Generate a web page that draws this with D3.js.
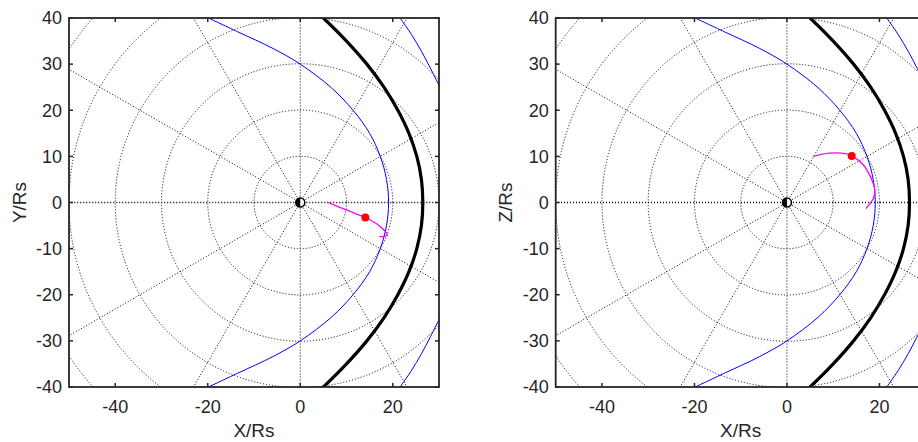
<!DOCTYPE html>
<html>
<head>
<meta charset="utf-8">
<script src="https://cdn.jsdelivr.net/npm/d3@7"></script>
<style>
  body { margin: 0; background: #fff; }
  text { font-family: "Liberation Sans", Arial, sans-serif; fill: #262626; }
</style>
</head>
<body>
<div id="chart"></div>
<script>
// Two orbit panels (X-Y and X-Z) with polar grid, magnetopause and bow shock

// Axis ticks
const xTicks = [-40, -20, 0, 20];
const yTicks = [-40, -30, -20, -10, 0, 10, 20, 30, 40];

// Polar grid
const gridRadii = [10, 20, 30, 40, 50, 60];
const spokeAngles = [0, 30, 60, 90, 120, 150, 180, 210, 240, 270, 300, 330];

// Magnetopause (blue)
const mpX = [-20.5, -13.5, -5.9, 0, 6.7, 11.5, 15.0, 17.3, 18.65, 19.1, 18.65, 17.3, 15.0, 11.5, 6.7, 0, -5.9, -13.5, -20.5];
const mpY = [40.3, 37.0, 33.4, 30, 24.9, 19.9, 15.0, 10.0, 5.0, 0, -5.0, -10.0, -15.0, -19.9, -24.9, -30, -33.4, -37.0, -40.3];

// Bow shock (thick black)
const bsX = [3.9, 5.0, 10.0, 14.4, 18.1, 21.1, 23.5, 25.2, 26.2, 26.5, 26.2, 25.2, 23.5, 21.1, 18.1, 14.4, 10.0, 5.0, 3.9];
const bsY = [41, 40, 35, 30, 25, 20, 15, 10, 5, 0, -5, -10, -15, -20, -25, -30, -35, -40, -41];

// Outer blue branches in the corners
const outerTopX = [21.0, 21.6, 24.0, 26.2, 28.2, 30.1, 31.0];
const outerTopY = [41.0, 40, 36.5, 32.8, 29.0, 25.2, 23.3];
const outerBotX = [21.0, 21.6, 24.0, 26.2, 28.2, 30.1, 31.0];
const outerBotY = [-41.0, -40, -36.5, -32.8, -29.0, -25.2, -23.3];

// Spacecraft trajectory, X-Y plane
const trajXYx = [6.0, 10.1, 14.07, 16.5, 17.7, 18.6, 18.8, 18.2, 17.1];
const trajXYy = [0.0, -1.67, -3.25, -4.6, -5.6, -6.6, -7.1, -7.35, -7.4];
const posXY = [14.07, -3.25];

// Spacecraft trajectory, X-Z plane
const trajXZx = [5.75, 9.1, 12.7, 14.0, 16.3, 18.1, 19.0, 18.7, 17.1];
const trajXZz = [10.0, 10.7, 10.6, 10.1, 8.4, 5.5, 2.7, 0.9, -1.3];
const posXZ = [14.0, 10.1];

var svg = d3.select('#chart').append('svg')
    .attr('width', 918)
    .attr('height', 442);

function drawPanel(id, left, yLabel, tx, ty, pos) {
    var xScale = d3.scaleLinear().domain([-50, 30]).range([left, left + 370]);
    var yScale = d3.scaleLinear().domain([-40, 40]).range([387, 18]);
    var x0 = xScale(-50), x1 = xScale(30), y0 = yScale(40), y1 = yScale(-40);

    svg.append('clipPath').attr('id', id)
        .append('rect')
        .attr('x', x0).attr('y', y0)
        .attr('width', x1 - x0).attr('height', y1 - y0);

    var g = svg.append('g').attr('clip-path', 'url(#' + id + ')');
    var k = xScale(1) - xScale(0);

    // Dotted polar grid
    g.selectAll('.ring')
        .data(gridRadii)
        .enter()
        .append('circle')
        .attr('cx', xScale(0))
        .attr('cy', yScale(0))
        .attr('r', function(d) { return d * k; })
        .attr('fill', 'none')
        .attr('stroke', '#000')
        .attr('stroke-width', 1)
        .attr('stroke-dasharray', '1,2');

    g.selectAll('.spoke')
        .data(spokeAngles)
        .enter()
        .append('line')
        .attr('x1', xScale(0))
        .attr('y1', yScale(0))
        .attr('x2', function(d) { return xScale(60 * Math.cos(d * Math.PI / 180)); })
        .attr('y2', function(d) { return yScale(60 * Math.sin(d * Math.PI / 180)); })
        .attr('stroke', '#000')
        .attr('stroke-width', function(d) { return (d == 0 || d == 180) ? 1.5 : 1; })
        .attr('stroke-dasharray', '1,2');

    var line = d3.line()
        .x(function(d) { return xScale(d[0]); })
        .y(function(d) { return yScale(d[1]); })
        .curve(d3.curveCatmullRom);

    function pairs(xs, ys) { return xs.map(function(v, i) { return [v, ys[i]]; }); }

    g.append('path').datum(pairs(mpX, mpY))
        .attr('d', line).attr('fill', 'none')
        .attr('stroke', '#0000ff').attr('stroke-width', 1);

    g.append('path').datum(pairs(outerTopX, outerTopY))
        .attr('d', line).attr('fill', 'none')
        .attr('stroke', '#0000ff').attr('stroke-width', 1);
    g.append('path').datum(pairs(outerBotX, outerBotY))
        .attr('d', line).attr('fill', 'none')
        .attr('stroke', '#0000ff').attr('stroke-width', 1);

    g.append('path').datum(pairs(bsX, bsY))
        .attr('d', line).attr('fill', 'none')
        .attr('stroke', '#000').attr('stroke-width', 3.2);

    g.append('path').datum(pairs(tx, ty))
        .attr('d', line).attr('fill', 'none')
        .attr('stroke', '#ff00ff').attr('stroke-width', 1.3);

    g.append('circle')
        .attr('cx', xScale(pos[0])).attr('cy', yScale(pos[1]))
        .attr('r', 4).attr('fill', '#ff0000');

    // Saturn symbol, left half dark
    g.append('circle')
        .attr('cx', xScale(0)).attr('cy', yScale(0)).attr('r', 4.5)
        .attr('fill', '#fff').attr('stroke', '#000').attr('stroke-width', 1.5);
    g.append('path')
        .attr('transform', 'translate(' + xScale(0) + ',' + yScale(0) + ')')
        .attr('d', d3.arc().innerRadius(0).outerRadius(4.5).startAngle(Math.PI).endAngle(2 * Math.PI))
        .attr('fill', '#000');

    // Ticks on all four sides, pointing in
    var ax = svg.append('g');
    xTicks.forEach(function(t) {
        ax.append('line').attr('x1', xScale(t)).attr('x2', xScale(t))
            .attr('y1', y1).attr('y2', y1 - 4).attr('stroke', '#262626').attr('stroke-width', 1.5);
        ax.append('line').attr('x1', xScale(t)).attr('x2', xScale(t))
            .attr('y1', y0).attr('y2', y0 + 4).attr('stroke', '#262626').attr('stroke-width', 1.5);
        ax.append('text').attr('x', xScale(t)).attr('y', 413)
            .attr('text-anchor', 'middle').attr('font-size', '18px').text(t);
    });
    yTicks.forEach(function(t) {
        ax.append('line').attr('x1', x0).attr('x2', x0 + 4)
            .attr('y1', yScale(t)).attr('y2', yScale(t)).attr('stroke', '#262626').attr('stroke-width', 1.5);
        ax.append('line').attr('x1', x1).attr('x2', x1 - 4)
            .attr('y1', yScale(t)).attr('y2', yScale(t)).attr('stroke', '#262626').attr('stroke-width', 1.5);
        ax.append('text').attr('x', x0 - 7).attr('y', yScale(t)).attr('dy', '0.35em')
            .attr('text-anchor', 'end').attr('font-size', '18px').text(t);
    });

    ax.append('rect')
        .attr('x', x0).attr('y', y0)
        .attr('width', x1 - x0).attr('height', y1 - y0)
        .attr('fill', 'none').attr('stroke', '#262626').attr('stroke-width', 1.8);

    ax.append('text')
        .attr('x', (x0 + x1) / 2).attr('y', 437)
        .attr('text-anchor', 'middle').attr('font-size', '19px').text('X/Rs');

    ax.append('text')
        .attr('transform', 'translate(' + (x0 - 50) + ',' + yScale(0) + ') rotate(-90)')
        .attr('text-anchor', 'middle').attr('dy', '0.35em')
        .attr('font-size', '19px').text(yLabel);
}

drawPanel('clipL', 69, 'Y/Rs', trajXYx, trajXYy, posXY);
drawPanel('clipR', 555.7, 'Z/Rs', trajXZx, trajXZz, posXZ);
</script>
</body>
</html>
